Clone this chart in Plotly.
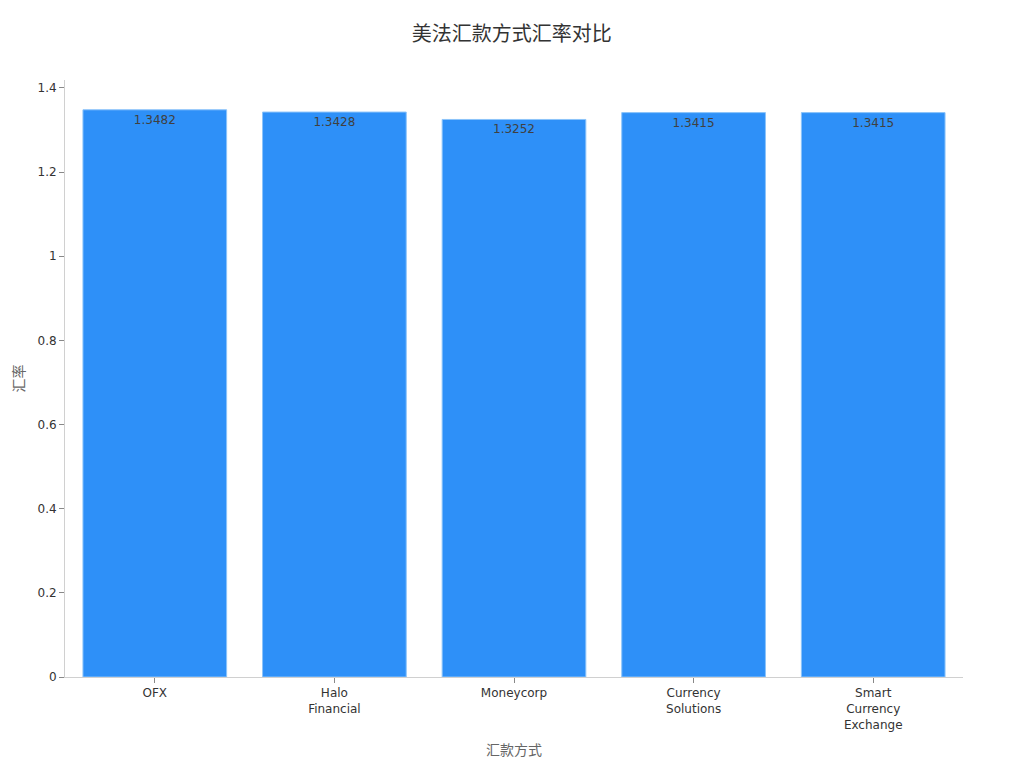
import plotly.graph_objects as go

categories = ["OFX", "Halo<br>Financial", "Moneycorp", "Currency<br>Solutions", "Smart<br>Currency<br>Exchange"]
rates = [1.3482, 1.3428, 1.3252, 1.3415, 1.3415]
labels = ["1.3482", "1.3428", "1.3252", "1.3415", "1.3415"]

fig = go.Figure(go.Bar(
    x=categories, y=rates, text=labels,
    textposition="inside", insidetextanchor="end",
    textfont=dict(color="#404040", size=12, family="DejaVu Sans"),
    marker=dict(color="#2E90F8", line=dict(color="#8CC4FA", width=1)),
))
fig.update_layout(
    width=1024, height=768,
    paper_bgcolor="white", plot_bgcolor="white",
    font=dict(family="DejaVu Sans", color="#333333", size=12),
    title=dict(text="美法汇款方式汇率对比", x=0.492, xanchor="center", y=0.975,
               font=dict(size=20, color="#333333", family="Noto Sans CJK SC")),
    margin=dict(l=57, r=69, t=72, b=99),
    bargap=0.2,
    showlegend=False,
)
fig.update_xaxes(
    title=dict(text="汇款方式", font=dict(size=14, color="#666666", family="Noto Sans CJK SC"), standoff=14),
    showline=True, linecolor="#D0D0D0", linewidth=1,
    ticks="outside", tickcolor="#888888", ticklen=5,
    showgrid=False, tickfont=dict(size=12, color="#333333"),
)
fig.update_yaxes(
    title=dict(text="汇率", font=dict(size=14, color="#666666", family="Noto Sans CJK SC"), standoff=21),
    automargin=False,
    range=[0, 1.419], dtick=0.2,
    showline=True, linecolor="#D0D0D0", linewidth=1,
    ticks="outside", tickcolor="#888888", ticklen=5,
    showgrid=False, zeroline=False, tickfont=dict(size=12, color="#333333"),
)
fig.write_html("out.html")
